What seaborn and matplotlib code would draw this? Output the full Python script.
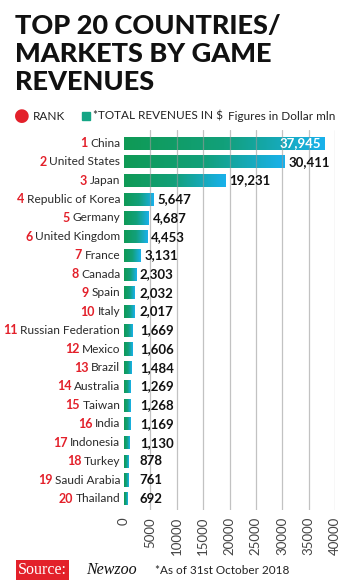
import matplotlib.pyplot as plt
import numpy as np
import pandas as pd
import seaborn as sns
from matplotlib.colors import LinearSegmentedColormap

countries = ["China", "United States", "Japan", "Republic of Korea", "Germany",
             "United Kingdom", "France", "Canada", "Spain", "Italy",
             "Russian Federation", "Mexico", "Brazil", "Australia", "Taiwan",
             "India", "Indonesia", "Turkey", "Saudi Arabia", "Thailand"]
revenues = [37945, 30411, 19231, 5647, 4687, 4453, 3131, 2303, 2032, 2017,
            1669, 1606, 1484, 1269, 1268, 1169, 1130, 878, 761, 692]
ranks = list(range(1, 21))
ticks = [0, 5000, 10000, 15000, 20000, 25000, 30000, 35000, 40000]

df = pd.DataFrame({"country": countries, "revenue": revenues, "rank": ranks})

sns.set_style("white")
plt.rcParams["font.family"] = ["Lato", "DejaVu Sans"]

RED = "#e3202a"
GREEN = "#0f9a55"
BLUE = "#19b1ec"
grad = LinearSegmentedColormap.from_list("g", [GREEN, "#12a07a", BLUE])

fig = plt.figure(figsize=(3.5, 5.84), dpi=100)
ax = fig.add_axes([124 / 350, 1 - 510 / 584, 211 / 350, 380 / 584])

sns.barplot(data=df, x="revenue", y="country", orient="h", ax=ax,
            color=GREEN, width=0.7, saturation=1)

# gradient fill, clipped to each bar
for p in ax.patches:
    x0, y0 = p.get_x(), p.get_y()
    w, h = p.get_width(), p.get_height()
    g = np.linspace(0, 1, 256).reshape(1, -1)
    im = ax.imshow(g, cmap=grad, aspect="auto", extent=[x0, x0 + w, y0 + h, y0],
                   zorder=2)
    im.set_clip_path(p)
    p.set_edgecolor("none")
ax.set_xlim(0, 40000)
ax.set_ylim(19.6, -0.7)

for t in ticks[1:]:
    ax.axvline(t, color="#9a9a9a", lw=0.9, alpha=0.6, zorder=3)

sns.despine(ax=ax, left=True, bottom=True, top=True, right=True)
ax.set_xticks(ticks)
ax.set_xticklabels([str(t) for t in ticks], rotation=90, fontsize=9.5,
                   color="#444444")
ax.tick_params(axis="x", length=0, pad=5)
ax.set_yticks([])
ax.set_xlabel("")
ax.set_ylabel("")

# value labels
for i, v in enumerate(revenues):
    label = f"{v:,}"
    if i == 0:
        ax.text(v - 500, i, label, ha="right", va="center", color="white",
                fontsize=9.5, fontweight="bold", zorder=5)
    else:
        ax.text(max(v + 700, 3000), i, label, ha="left", va="center",
                color="#111111", fontsize=9.5, fontweight="bold", zorder=5)

# country names with red rank
fig.canvas.draw()
renderer = fig.canvas.get_renderer()
inv = ax.transAxes.inverted()
for i, (c, r) in enumerate(zip(countries, ranks)):
    yd = ax.transData.transform((0, i))[1]
    ya = inv.transform((0, yd))[1]
    t = ax.text(-0.018, ya, c, transform=ax.transAxes, ha="right", va="center",
                fontsize=8.6, color="#2a2a2a")
    bb = t.get_window_extent(renderer=renderer)
    xl = inv.transform((bb.x0, 0))[0]
    ax.text(xl - 0.012, ya, str(r), transform=ax.transAxes, ha="right",
            va="center", fontsize=9, color=RED, fontweight="bold")

# title
fig.text(15 / 350, 1 - 14 / 584, "TOP 20 COUNTRIES/\nMARKETS BY GAME\nREVENUES",
         ha="left", va="top", fontsize=19.5, fontweight="black",
         color="#111111", linespacing=1.2)

# legend row
fig.text(22 / 350, 1 - 116 / 584, "\u25cf", ha="center", va="center",
         fontsize=13, color=RED, family="DejaVu Sans")
fig.text(33 / 350, 1 - 116 / 584, "RANK", ha="left", va="center",
         fontsize=8.5, color="#222222")
fig.patches.append(plt.Rectangle((82 / 350, 1 - 120 / 584), 8 / 350, 8 / 584,
                                 transform=fig.transFigure, color="#14a585",
                                 figure=fig))
fig.text(93 / 350, 1 - 116 / 584, "*TOTAL REVENUES IN $", ha="left",
         va="center", fontsize=8.5, color="#222222")
fig.text(228 / 350, 1 - 116 / 584, "Figures in Dollar mln", ha="left",
         va="center", fontsize=8.5, color="#222222")

# footer
fig.text(18 / 350, 1 - 570 / 584, "Source:", ha="left", va="center",
         fontsize=11.5, color="white", family="Liberation Serif",
         bbox=dict(boxstyle="square,pad=0.15", fc=RED, ec="none"))
fig.text(86 / 350, 1 - 570 / 584, "Newzoo", ha="left", va="center",
         fontsize=11.5, color="#111111", family="Liberation Serif",
         style="italic")
fig.text(155 / 350, 1 - 571 / 584, "*As of 31st October 2018", ha="left",
         va="center", fontsize=8.5, color="#222222")

fig.savefig("out.png", dpi=100)
